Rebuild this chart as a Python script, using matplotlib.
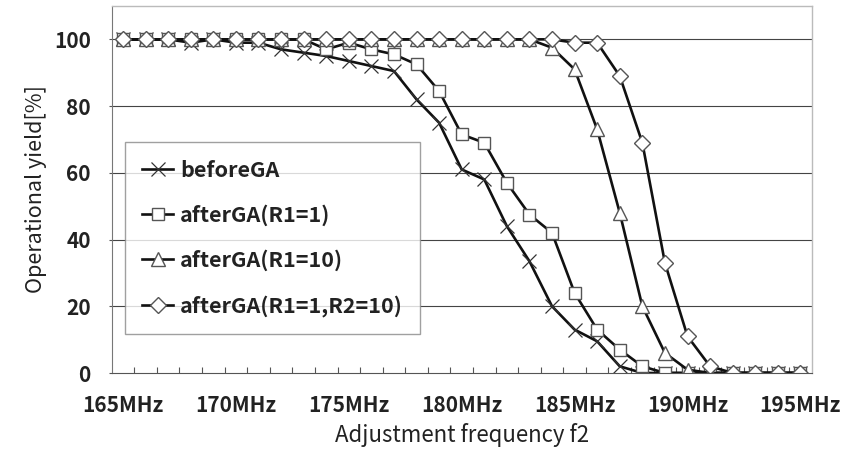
#!/usr/bin/env python

"""
Operational yield vs adjustment frequency f2 (before / after GA)
"""

import numpy as np
import matplotlib
matplotlib.use("Agg")
import matplotlib.pyplot as plt

# ---------- data ----------
freqs = list(range(165, 196))  # MHz, one category per MHz
tick_labels = ["165MHz", "170MHz", "175MHz", "180MHz", "185MHz", "190MHz", "195MHz"]

before_ga = [100, 100, 100, 99, 100, 99, 99, 97, 96, 95, 93.5, 92, 90.5, 82, 75, 61,
             58, 44, 33.5, 20, 13, 9.5, 2, 0, 0, 0, 0, 0, 0, 0, 0]
after_r1 = [100, 100, 100, 100, 100, 100, 100, 100, 100, 97, 99, 97, 95.5, 92.5, 84.5, 71.5,
            69, 57, 47.5, 42, 24, 13, 7, 2, 0, 0, 0, 0, 0, 0, 0]
after_r10 = [100, 100, 100, 100, 100, 100, 100, 100, 100, 100, 100, 100, 100, 100, 100, 100,
             100, 100, 100, 97.5, 91, 73, 48, 20, 6, 1, 0, 0, 0, 0, 0]
after_r1_r2 = [100, 100, 100, 100, 100, 100, 100, 100, 100, 100, 100, 100, 100, 100, 100, 100,
               100, 100, 100, 100, 99, 99, 89, 69, 33, 11, 2, 0, 0, 0, 0]

series_names = ["beforeGA", "afterGA(R1=1)", "afterGA(R1=10)", "afterGA(R1=1,R2=10)"]


def main():
    plt.rcParams["font.family"] = ["Noto Sans CJK JP", "DejaVu Sans"]

    fig = plt.figure(figsize=(8.52, 4.53), dpi=100)
    ax = fig.add_axes([0.1311, 0.1766, 0.8216, 0.8102])

    x = np.arange(len(freqs))
    line_kw = dict(color="#111111", linewidth=1.9)
    mk_kw = dict(markerfacecolor="white", markeredgecolor="#555555", markeredgewidth=1.0)

    ax.plot(x, before_ga, marker="x", markersize=10, markeredgecolor="#333333",
            markeredgewidth=0.9, label=series_names[0], **line_kw)
    ax.plot(x, after_r1, marker="s", markersize=8.5, label=series_names[1], **line_kw, **mk_kw)
    ax.plot(x, after_r10, marker="^", markersize=10, label=series_names[2], **line_kw, **mk_kw)
    ax.plot(x, after_r1_r2, marker="D", markersize=8, label=series_names[3], **line_kw, **mk_kw)

    # axes limits / grid
    ax.set_xlim(-0.5, len(freqs) - 0.5)
    ax.set_ylim(0, 110)
    ax.set_yticks(np.arange(0, 101, 20))
    for yv in range(20, 101, 20):
        ax.axhline(yv, color="#444444", linewidth=0.8, zorder=0)

    # x ticks: labels every 5 MHz, small inner ticks between categories
    ax.set_xticks(x[::5])
    ax.set_xticklabels(tick_labels)
    ax.set_xticks(np.arange(0.5, len(freqs) - 0.5, 1), minor=True)
    ax.tick_params(axis="x", which="major", length=0, pad=16, labelsize=15)
    ax.tick_params(axis="x", which="minor", direction="in", length=4, width=0.8, color="#555555")
    ax.tick_params(axis="y", which="major", direction="out", length=2, width=0.8,
                   color="#555555", pad=13, labelsize=15)
    for lab in ax.get_xticklabels() + ax.get_yticklabels():
        lab.set_fontweight("bold")
        lab.set_color("#222222")

    for side in ["top", "right"]:
        ax.spines[side].set_color("#bbbbbb")
        ax.spines[side].set_linewidth(1.0)
    ax.spines["left"].set_color("#777777")
    ax.spines["bottom"].set_color("#555555")

    ax.set_xlabel("Adjustment frequency f2", fontsize=16, labelpad=5, color="#222222")
    ax.set_ylabel("Operational yield[%]", fontsize=15.5, labelpad=5, color="#222222")

    leg = ax.legend(loc="lower left", bbox_to_anchor=(0.019, 0.106), borderaxespad=0,
                    frameon=True, fancybox=False, edgecolor="#888888",
                    handlelength=1.45, handletextpad=0.3, labelspacing=1.1,
                    borderpad=0.8, prop={"weight": "bold", "size": 15.5})
    leg.get_frame().set_linewidth(1.0)
    for t in leg.get_texts():
        t.set_color("#222222")

    fig.savefig("out.png", dpi=100)


if __name__ == "__main__":
    main()
